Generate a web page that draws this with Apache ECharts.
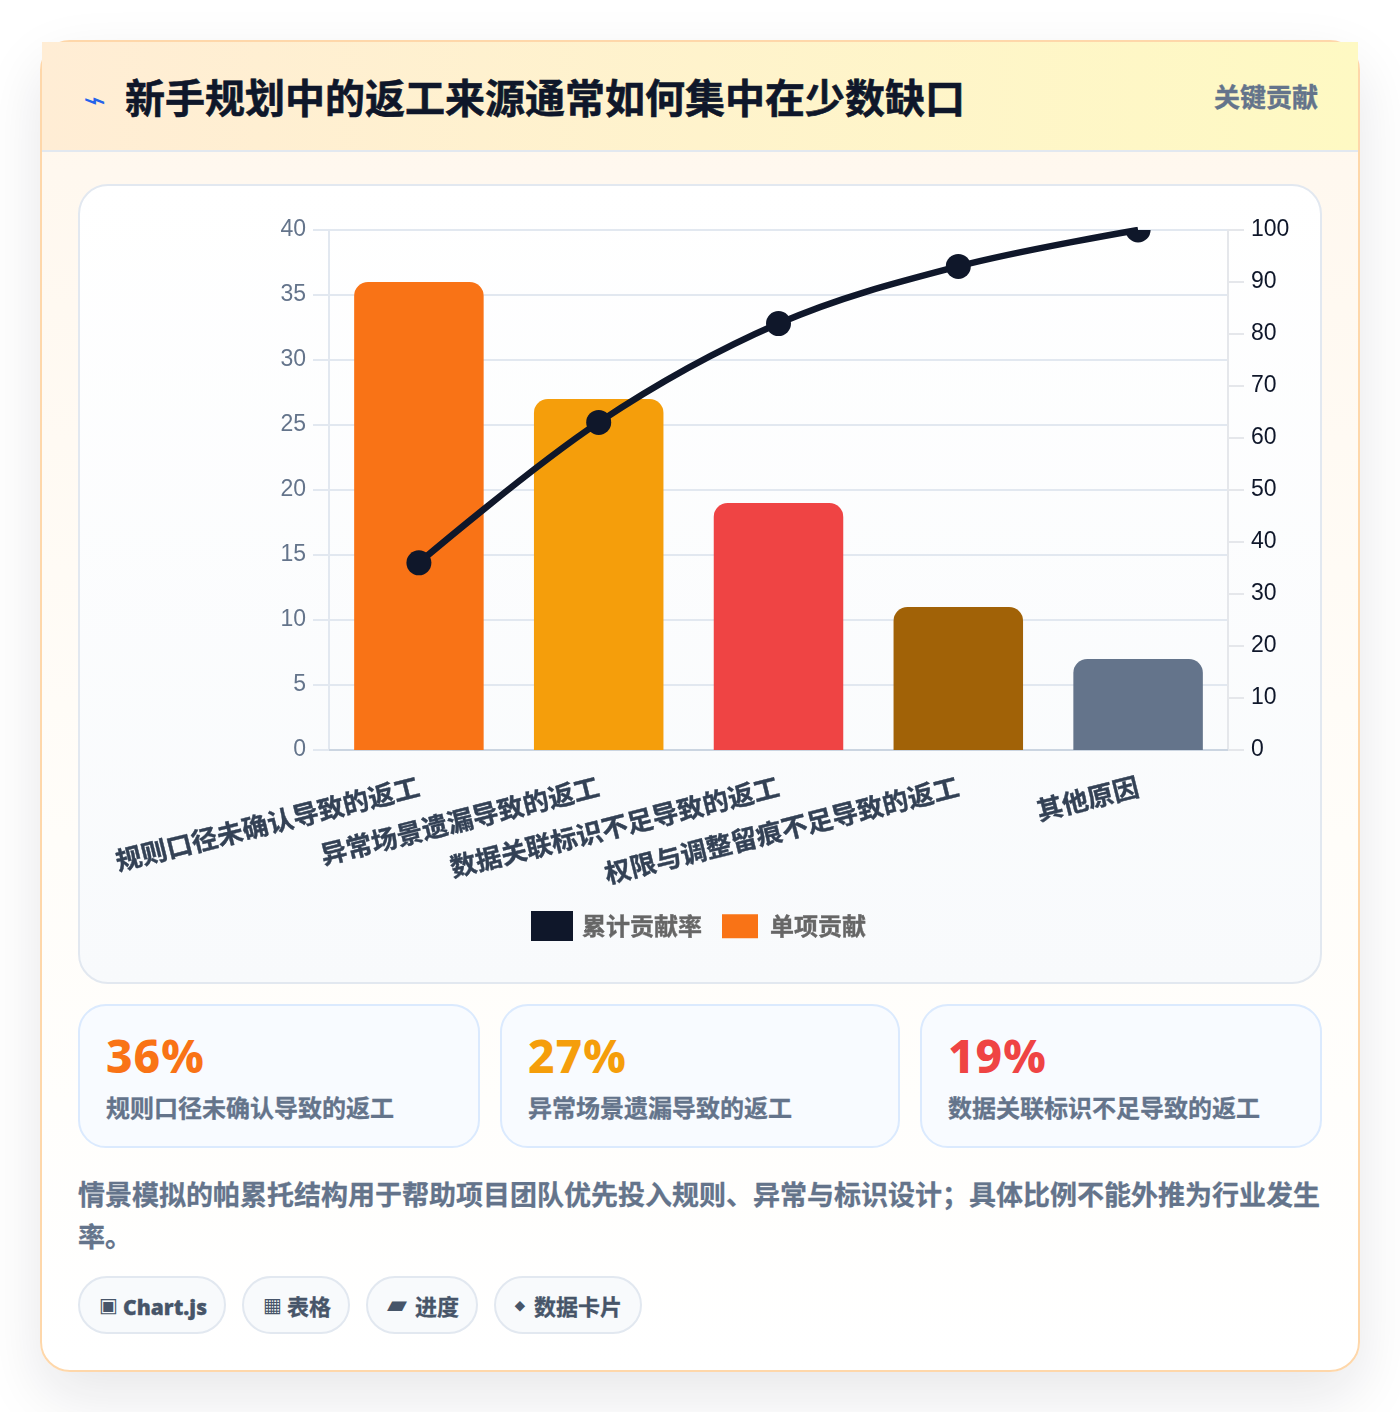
<!DOCTYPE html>
<html lang="zh">
<head>
<meta charset="utf-8">
<title>帕累托</title>
<script src="https://cdn.jsdelivr.net/npm/echarts@6/dist/echarts.min.js"></script>
<style>
* { box-sizing: border-box; margin: 0; padding: 0; }
html, body { width: 1400px; height: 1412px; overflow: hidden; background: #fff; font-family: "Noto Sans CJK SC", "Noto Sans", sans-serif; }
.card { position: absolute; left: 40px; top: 40px; width: 1320px; height: 1332px; border: 2px solid #fed7aa; border-radius: 30px; background: linear-gradient(180deg, #fff7ed 0%, #fffdf9 60%, #ffffff 100%); box-shadow: 0 24px 60px rgba(15,23,42,.1); }
.head { position: absolute; left: 0; top: 0; width: 1316px; height: 110px; background: linear-gradient(90deg, #ffedd5, #fef9c3 100%); border-bottom: 2px solid #e2e8f0; }
.icon { position: absolute; left: 41px; top: 40px; font: 26px/36px "DejaVu Sans"; color: #2563eb; transform: scaleX(1.5); transform-origin: left center; }
.head h1 { position: absolute; left: 83px; top: 25px; font-size: 40px; line-height: 58px; font-weight: 700; color: #0f172a; white-space: nowrap; -webkit-text-stroke: .6px #0f172a; }
.badge { position: absolute; right: 40px; top: 35px; font-size: 26px; line-height: 38px; font-weight: 700; color: #64748b; -webkit-text-stroke: .4px #64748b; }
.panel { position: absolute; left: 36px; top: 142px; width: 1244px; height: 800px; border: 2px solid #e2e8f0; border-radius: 30px; background: linear-gradient(180deg, #fff, #f8fafc); }
#chart_main { position: absolute; left: 0; top: 0; width: 1240px; height: 796px; }
.stat { position: absolute; top: 962px; height: 144px; border: 2px solid #dbeafe; border-radius: 28px; background: #f8fbff; }
.stat b { position: absolute; left: 26px; top: 14px; font: 800 46px/70px "Noto Sans"; letter-spacing: 1px; white-space: nowrap; }
.stat span { position: absolute; left: 26px; top: 83px; font-size: 24px; line-height: 36px; font-weight: 700; color: #64748b; white-space: nowrap; -webkit-text-stroke: .3px #64748b; }
.note { position: absolute; left: 36px; top: 1131px; width: 1250px; font-size: 27px; line-height: 42px; font-weight: 700; color: #64748b; -webkit-text-stroke: .3px #64748b; }
.chip { position: absolute; top: 1234px; height: 58px; border: 2px solid #e2e8f0; border-radius: 29px; background: #f8fafc; font-size: 22px; line-height: 54px; font-weight: 700; color: #475569; white-space: nowrap; -webkit-text-stroke: .3px #475569; }
.chip i { position: absolute; top: 0; font-style: normal; font-family: "DejaVu Sans"; font-size: 20px; -webkit-text-stroke: 0; }
.chip span { position: absolute; top: 0; }
.chip em { font: 800 21px/54px "Open Sans"; font-style: normal; }
</style>
</head>
<body>
<div class="card">
	<div class="head">
		<div class="icon">⌁</div>
		<h1>新手规划中的返工来源通常如何集中在少数缺口</h1>
		<div class="badge">关键贡献</div>
	</div>
	<div class="panel"><div id="chart_main"></div></div>
	<div class="stat" style="left:36px;width:402px"><b style="color:#f97316">36%</b><span>规则口径未确认导致的返工</span></div>
	<div class="stat" style="left:458px;width:400px"><b style="color:#f59e0b">27%</b><span>异常场景遗漏导致的返工</span></div>
	<div class="stat" style="left:878px;width:402px"><b style="color:#ef4444">19%</b><span>数据关联标识不足导致的返工</span></div>
	<div class="note">情景模拟的帕累托结构用于帮助项目团队优先投入规则、异常与标识设计；具体比例不能外推为行业发生率。</div>
	<div class="chip" style="left:36px;width:148px"><i style="left:19px">▣</i><span style="left:43px"><em>Chart.js</em></span></div>
	<div class="chip" style="left:200px;width:108px"><i style="left:19px">▦</i><span style="left:43px">表格</span></div>
	<div class="chip" style="left:324px;width:112px"><i style="left:19px;font-size:26px;top:-1px">▰</i><span style="left:47px">进度</span></div>
	<div class="chip" style="left:452px;width:148px"><i style="left:19px;font-size:14px">⬥</i><span style="left:38px">数据卡片</span></div>
</div>
<script>
var categories = ['规则口径未确认导致的返工', '异常场景遗漏导致的返工', '数据关联标识不足导致的返工', '权限与调整留痕不足导致的返工', '其他原因'];
var single = [36, 27, 19, 11, 7];
var cumulative = [36, 63, 82, 93, 100];
var barColors = ['#f97316', '#f59e0b', '#ef4444', '#a16207', '#64748b'];
var lineName = '累计贡献率';
var barName = '单项贡献';

var myChart = echarts.init(document.getElementById('chart_main'));
var tickFont = '"Liberation Sans", Arial, sans-serif';
var legendText = { fontSize: 24, fontWeight: 700, color: '#666', fontFamily: '"Noto Sans CJK SC"', textBorderColor: '#666', textBorderWidth: 0.4 };
var option = {
	animation: false,
	grid: { left: 249, right: 92, top: 44, height: 520 },
	legend: [
		{ left: 446, top: 720, itemWidth: 42, itemHeight: 30, icon: 'rect', data: [lineName], selectedMode: false,
			textStyle: Object.assign({ padding: [0, 0, 4, 4] }, legendText) },
		{ left: 637, top: 723, itemWidth: 36, itemHeight: 24, icon: 'rect', data: [barName], selectedMode: false,
			textStyle: Object.assign({ padding: [0, 0, 4, 7] }, legendText) }
	],
	xAxis: {
		type: 'category',
		data: categories,
		axisTick: { show: false },
		axisLine: { lineStyle: { color: '#cbd5e1', width: 2 } },
		axisLabel: { rotate: 14, interval: 0, margin: 36, fontSize: 26, fontWeight: 700, color: '#334155', fontFamily: '"Noto Sans CJK SC"', textBorderColor: '#334155', textBorderWidth: 0.4 }
	},
	yAxis: [
		{
			type: 'value', min: 0, max: 40, interval: 5,
			axisLine: { show: true, lineStyle: { color: '#e2e8f0', width: 2 } },
			axisTick: { show: true, length: 16, lineStyle: { color: '#e2e8f0', width: 2 } },
			splitLine: { showMinLine: false, lineStyle: { color: '#e2e8f0', width: 2 } },
			axisLabel: { margin: 23, fontSize: 23, color: '#64748b', fontFamily: tickFont, padding: [4, 0, 0, 0] }
		},
		{
			type: 'value', min: 0, max: 100, interval: 10, position: 'right',
			axisLine: { show: true, lineStyle: { color: '#e5e7eb', width: 2 } },
			axisTick: { show: true, length: 16, lineStyle: { color: '#e5e7eb', width: 2 } },
			splitLine: { show: false },
			axisLabel: { margin: 23, fontSize: 23, color: '#0f172a', fontFamily: tickFont, padding: [4, 0, 0, 0] }
		}
	],
	series: [
		{
			name: barName, type: 'bar', barWidth: 129.5, z: 2,
			itemStyle: { color: '#f97316' },
			data: single.map(function (v, i) {
				return { value: v, itemStyle: { color: barColors[i], borderRadius: [14, 14, 0, 0] } };
			})
		},
		{
			name: lineName, type: 'line', yAxisIndex: 1, smooth: 0.35, symbol: 'none', clip: true, z: 3,
			itemStyle: { color: '#0f172a' },
			lineStyle: { color: '#0f172a', width: 6.5 },
			data: cumulative
		},
		{
			// 圆点要被绘图区裁切，折线自带的 symbol 做不到
			name: lineName, type: 'custom', yAxisIndex: 1, clip: true, z: 4,
			itemStyle: { color: '#0f172a' },
			encode: { x: 0, y: 1 },
			data: cumulative.map(function (v, i) { return [i, v]; }),
			renderItem: function (params, api) {
				var p = api.coord([api.value(0), api.value(1)]);
				return { type: 'circle', shape: { cx: p[0], cy: p[1], r: 12.5 }, style: { fill: '#0f172a' } };
			}
		}
	]
};
myChart.setOption(option);
</script>
</body>
</html>
